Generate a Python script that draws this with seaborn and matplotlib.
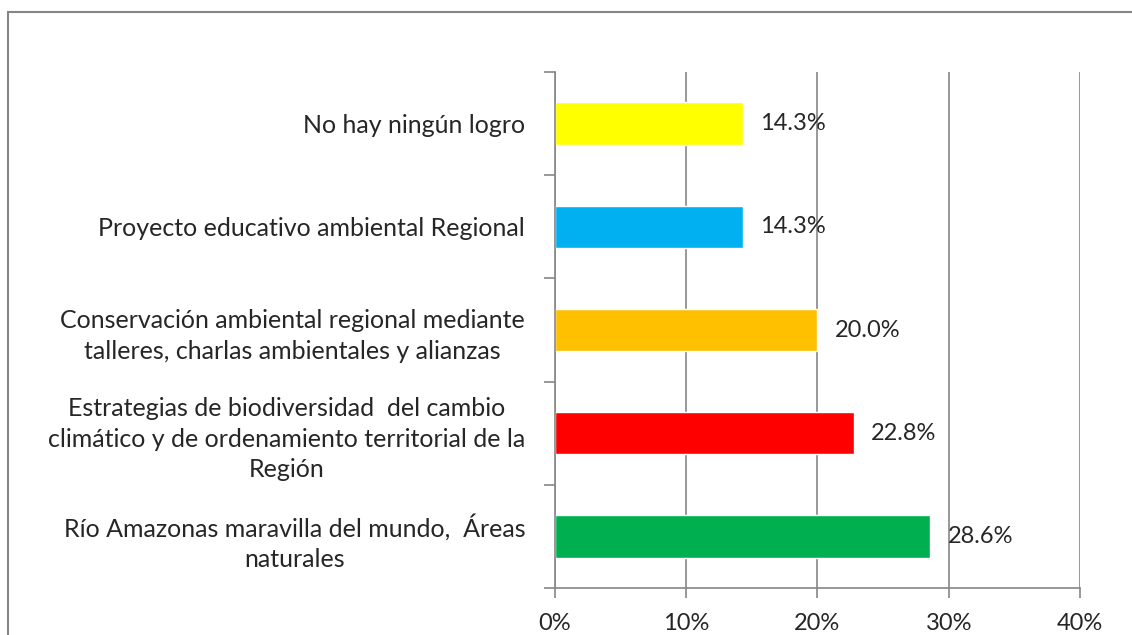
import numpy as np
import pandas as pd
import seaborn as sns
import matplotlib.pyplot as plt
from matplotlib.patches import Rectangle
from matplotlib.ticker import FuncFormatter

# datos
categorias = [
    "No hay ningún logro",
    "Proyecto educativo ambiental Regional",
    "Conservación ambiental regional mediante\ntalleres, charlas ambientales y alianzas",
    "Estrategias de biodiversidad  del cambio\nclimático y de ordenamiento territorial de la\nRegión",
    "Río Amazonas maravilla del mundo,  Áreas\nnaturales",
]
porcentajes = [14.3, 14.3, 20.0, 22.8, 28.6]
colores = ["#FFFF00", "#00B0F0", "#FFC000", "#FF0000", "#00B050"]
x_ticks = [0, 10, 20, 30, 40]

df = pd.DataFrame({"categoria": categorias, "valor": porcentajes})

sns.set_theme(style="white")
plt.rcParams["font.family"] = ["Lato", "DejaVu Sans"]

fig = plt.figure(figsize=(11.32, 6.35), dpi=100)
ax = fig.add_axes([0.4903, 0.074, 0.4637, 0.8126])

sns.barplot(data=df, y="categoria", x="valor", hue="categoria",
            palette=colores, orient="h", width=0.41, legend=False,
            saturation=1, ax=ax)

gris = "#868686"
ax.set_xlim(0, 40)
ax.set_ylim(4.5, -0.5)
ax.set_xticks(x_ticks)
ax.xaxis.set_major_formatter(FuncFormatter(lambda v, p: f"{v:.0f}%"))
ax.grid(axis="x", color=gris, linewidth=1.2)
ax.set_axisbelow(True)
ax.set_xlabel("")
ax.set_ylabel("")

for s in ["top", "right"]:
    ax.spines[s].set_visible(False)
for s in ["left", "bottom"]:
    ax.spines[s].set_color(gris)
    ax.spines[s].set_linewidth(1.2)

ax.tick_params(axis="x", length=7, width=1.2, color=gris, pad=11,
               labelsize=17, bottom=True)
ax.tick_params(axis="y", which="major", length=0, pad=21.5, labelsize=18)
ax.set_yticks(np.arange(-0.5, 5, 1), minor=True)
ax.tick_params(axis="y", which="minor", length=8, width=1.2, color=gris, left=True)
for t in ax.get_yticklabels():
    t.set_horizontalalignment("right")
    t.set_multialignment("center")
    t.set_linespacing(1.4)

for i, v in enumerate(porcentajes):
    ax.text(v + 1.3, i, f"{v:.1f}%", va="center", ha="left", fontsize=17)

# marco del gráfico
fig.patches.append(Rectangle((0.007, -0.1), 1.2, 1.081, transform=fig.transFigure,
                             fill=False, edgecolor=gris, linewidth=1.5))

fig.savefig("out.png", dpi=100)
